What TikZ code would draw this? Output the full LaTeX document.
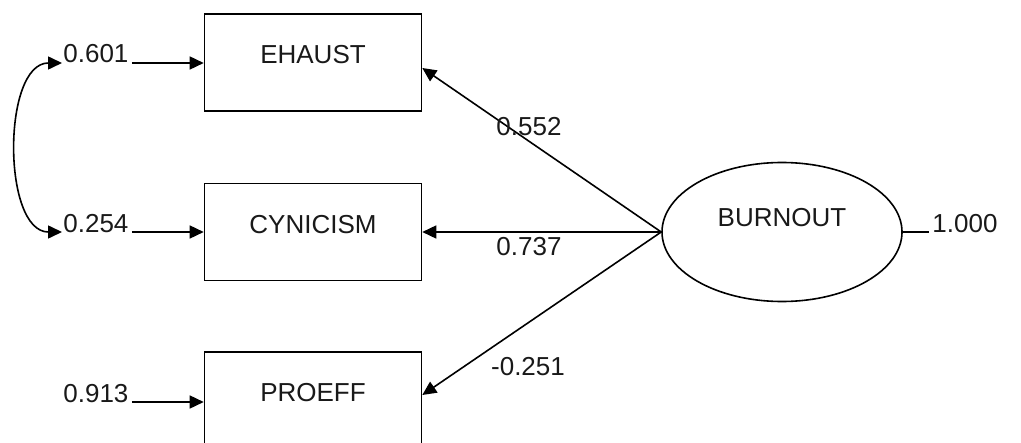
\documentclass[tikz,border=0pt]{standalone}
\usepackage{fontspec}
\setmainfont{Liberation Sans}
\usetikzlibrary{arrows.meta,shapes.geometric}
\begin{document}
\begin{tikzpicture}[x=0.5pt,y=-0.5pt,
  every node/.style={font=\fontsize{13pt}{15pt}\selectfont, text=black!90},
  obsbox/.style={draw, line width=0.8pt, rectangle, minimum width=108.5pt, minimum height=48.5pt, inner sep=0pt},
  latent/.style={draw, line width=0.8pt, ellipse, minimum width=120pt, minimum height=69.5pt, inner sep=0pt},
  boxtext/.style={label={[yshift=3.75pt]center:#1}},
  ovaltext/.style={label={[yshift=7pt]center:#1}},
  val/.style={inner sep=1.5pt},
  conn/.style={line width=0.8pt},
  tip/.style={conn, -{Triangle[length=7pt,width=6.5pt]}},
  dtip/.style={conn, {Triangle[length=7pt,width=6.5pt]}-{Triangle[length=7pt,width=6.5pt]}}
]
\useasboundingbox (0,0) rectangle (1021,443);
\clip (0,0) rectangle (1021,443);

% observed indicators
\node[obsbox, boxtext=EHAUST]   (eh) at (313,62.5)  {};
\node[obsbox, boxtext=CYNICISM] (cy) at (313,232)   {};
\node[obsbox, boxtext=PROEFF]   (pr) at (313,400.5) {};

% latent factor
\node[latent, ovaltext=BURNOUT] (bo) at (782,232) {};

% error variances
\node[val, anchor=base west] (e1) at (60,63)  {0.601};
\node[val, anchor=base west] (e2) at (60,232) {0.254};
\node[val, anchor=base west] (e3) at (60,402) {0.913};
\node[val, anchor=base west] (r)  at (929,232) {1.000};

\draw[tip] (e1.base east) -- (e1.base east -| eh.west);
\draw[tip] (e2.base east) -- (e2.base east -| cy.west);
\draw[tip] (e3.base east) -- (e3.base east -| pr.west);

% error covariance
\draw[dtip] ([xshift=1pt]e1.base west) .. controls +(-60,0) and +(-60,0) .. ([xshift=1pt]e2.base west);

% factor loadings
\draw[tip] (bo.west) -- ([yshift=-2.75pt]eh.east);
\draw[tip] (bo.west) -- (cy.east);
\draw[tip] (bo.west) -- ([yshift=2.75pt]pr.east);
\draw[conn] (bo.east) -- (r.base west);

% loading values
\node (l1) at (529,127) {0.552};
\node (l2) at (529,247) {0.737};
\node (l3) at (528,367) {-0.251};
\end{tikzpicture}
\end{document}
